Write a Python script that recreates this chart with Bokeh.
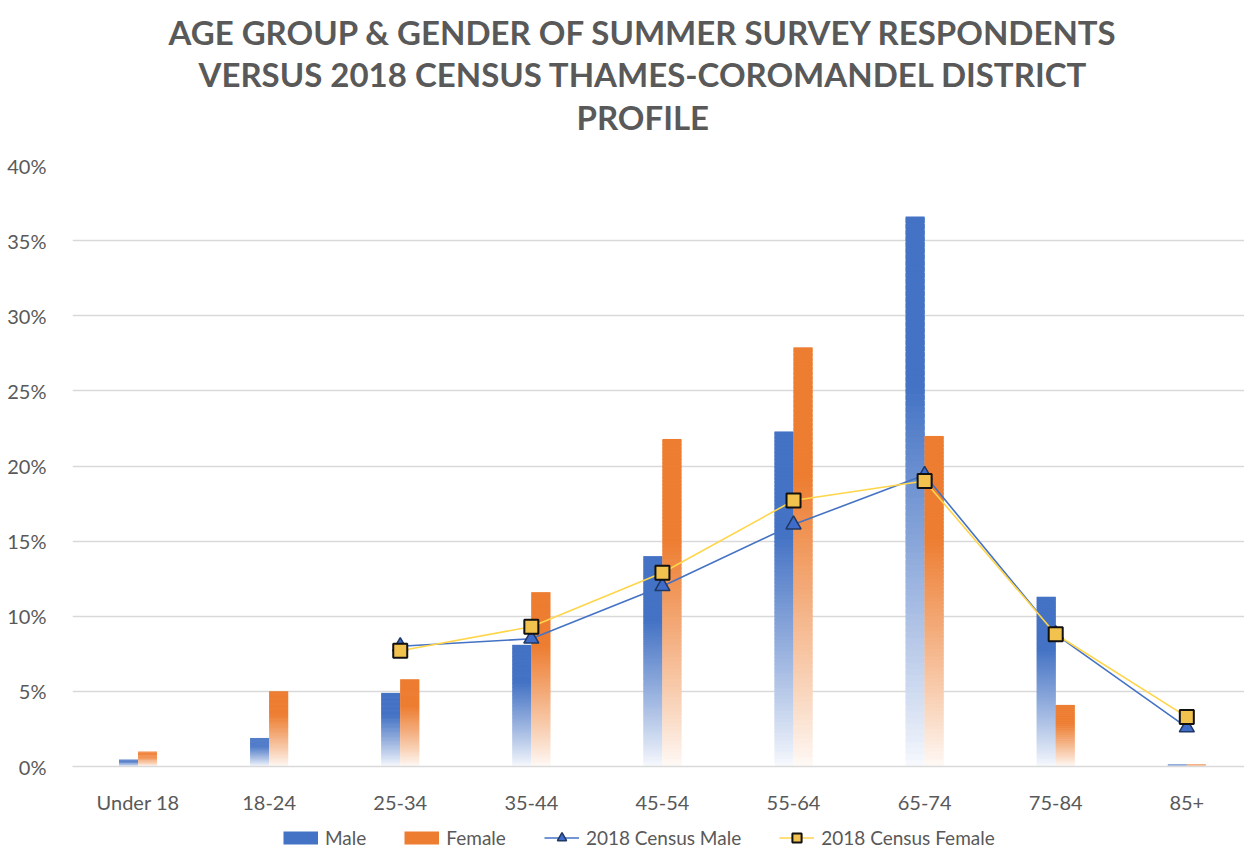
from bokeh.plotting import figure
from bokeh.layouts import column
from bokeh.models import (ColumnDataSource, FixedTicker, NumeralTickFormatter, Range1d,
                          Title, Legend, LegendItem)
from bokeh.embed import file_html
from bokeh.resources import INLINE

categories = ["Under 18", "18-24", "25-34", "35-44", "45-54", "55-64", "65-74", "75-84", "85+"]
male = [0.0045, 0.019, 0.049, 0.081, 0.140, 0.223, 0.366, 0.113, 0.0015]
female = [0.0098, 0.050, 0.058, 0.116, 0.218, 0.279, 0.220, 0.041, 0.0015]
census_male = [float("nan"), float("nan"), 0.080, 0.085, 0.120, 0.161, 0.194, 0.088, 0.026]
census_female = [float("nan"), float("nan"), 0.077, 0.093, 0.129, 0.177, 0.190, 0.088, 0.033]
title_lines = ["AGE GROUP & GENDER OF SUMMER SURVEY RESPONDENTS",
               "VERSUS 2018 CENSUS THAMES-COROMANDEL DISTRICT",
               "PROFILE"]
series_names = ["Male", "Female", "2018 Census Male", "2018 Census Female"]

FONT = "Lato"
GREY = "#595959"
BLUE = (68, 114, 196)
ORANGE = (237, 125, 49)
BLUE_HEX = "#4472C4"
ORANGE_HEX = "#ED7D31"

p = figure(width=1244, height=816, output_backend="svg", toolbar_location=None,
           x_range=Range1d(-0.5, 8.44), y_range=Range1d(0, 0.40),
           min_border_left=72, min_border_right=0, min_border_top=165, min_border_bottom=49)
p.outline_line_color = None
p.background_fill_color = "white"

N = 90
bar_w = 0.145


def mix(rgb, f):
    r, g, b = [int(round(255 + (c - 255) * f)) for c in rgb]
    return "#%02x%02x%02x" % (r, g, b)


def gradient_source(values, offset, rgb):
    xs, bots, tops, cols = [], [], [], []
    for i, v in enumerate(values):
        for k in range(N):
            t = (k + 0.5) / N
            f = min(1.0, 0.03 + 1.4 * t) ** 0.9
            xs.append(i + offset)
            bots.append(v * k / N)
            tops.append(v * min(k + 1.8, N) / N)
            cols.append(mix(rgb, f))
    return ColumnDataSource(dict(x=xs, bottom=bots, top=tops, color=cols))


src_m = gradient_source(male, -bar_w / 2, BLUE)
src_f = gradient_source(female, bar_w / 2, ORANGE)
p.vbar(x="x", bottom="bottom", top="top", width=bar_w, fill_color="color",
       line_color=None, source=src_m)
p.vbar(x="x", bottom="bottom", top="top", width=bar_w, fill_color="color",
       line_color=None, source=src_f)

xs = list(range(len(categories)))
src_c = ColumnDataSource(dict(x=xs, cm=census_male, cf=census_female))
CM_LINE = dict(line_color="#4472C4", line_width=1.6)
CF_LINE = dict(line_color="#FFD54A", line_width=1.6)
CM_MARK = dict(marker="triangle", fill_color="#3F6BC9", line_color="#1F3864", line_width=1.5)
CF_MARK = dict(marker="square", fill_color="#F2C24F", line_color="#111111", line_width=2)
p.line("x", "cm", source=src_c, **CM_LINE)
p.line("x", "cf", source=src_c, **CF_LINE)
p.scatter("x", "cm", source=src_c, size=15, **CM_MARK)
p.scatter("x", "cf", source=src_c, size=14, **CF_MARK)

# axes
p.xaxis.ticker = FixedTicker(ticks=xs)
p.xaxis.major_label_overrides = {i: c for i, c in enumerate(categories)}
p.yaxis.ticker = FixedTicker(ticks=[i * 0.05 for i in range(9)])
p.yaxis.formatter = NumeralTickFormatter(format="0%")
for ax in (p.xaxis, p.yaxis):
    ax.major_tick_line_color = None
    ax.minor_tick_line_color = None
    ax.major_label_text_font = FONT
    ax.major_label_text_font_size = "20px"
    ax.major_label_text_color = GREY
p.xaxis.axis_line_color = "#D9D9D9"
p.xaxis.axis_line_width = 1.5
p.yaxis.axis_line_color = None
p.xaxis.major_label_standoff = 17
p.yaxis.major_label_standoff = 20
p.xgrid.grid_line_color = None
p.ygrid.grid_line_color = "#D9D9D9"
p.ygrid.grid_line_width = 1.5

# spacer between plot and title block
p.add_layout(Title(text=" ", text_font=FONT, text_font_size="22px", standoff=0), "above")
# title lines (first added sits nearest the plot); left-aligned with offsets to centre at x~641
offsets = [96, 126, 504]
standoffs = [0, 1, 0]
for t, off, so in reversed(list(zip(title_lines, offsets, standoffs))):
    p.add_layout(Title(text=t, align="left", offset=off, text_font=FONT,
                       text_font_style="bold", text_font_size="33px", text_color=GREY,
                       standoff=so), "above")

# legend strip
lg = figure(width=1244, height=33, output_backend="svg", toolbar_location=None,
            x_range=Range1d(0, 1), y_range=Range1d(0, 1),
            x_axis_location=None, y_axis_location=None,
            min_border_left=0, min_border_right=0, min_border_top=0, min_border_bottom=0)
lg.outline_line_color = None
lg.grid.visible = False
nx, ny = [0.5], [float("nan")]
g_m = lg.line(x=nx, y=ny, line_color=BLUE_HEX, line_width=13, line_cap="butt")
g_f = lg.line(x=nx, y=ny, line_color=ORANGE_HEX, line_width=13, line_cap="butt")
g_cml = lg.line(x=nx, y=ny, **CM_LINE)
g_cms = lg.scatter(x=nx, y=ny, **CM_MARK)
g_cfl = lg.line(x=nx, y=ny, **CF_LINE)
g_cfs = lg.scatter(x=nx, y=ny, **CF_MARK)
legend = Legend(items=[
    LegendItem(label=series_names[0], renderers=[g_m]),
    LegendItem(label=series_names[1], renderers=[g_f]),
    LegendItem(label=series_names[2], renderers=[g_cml, g_cms]),
    LegendItem(label=series_names[3], renderers=[g_cfl, g_cfs]),
], orientation="horizontal", location=(211, 0))
legend.label_text_font = FONT
legend.label_text_font_size = "19px"
legend.label_text_color = GREY
legend.glyph_width = 35
legend.glyph_height = 23
legend.label_height = 23
legend.label_standoff = 7
legend.spacing = 38
legend.padding = 0
legend.margin = 0
legend.border_line_color = None
legend.background_fill_alpha = 0
lg.add_layout(legend, "center")

layout = column(p, lg, spacing=0)
open("out.html", "w").write(file_html(layout, INLINE))
